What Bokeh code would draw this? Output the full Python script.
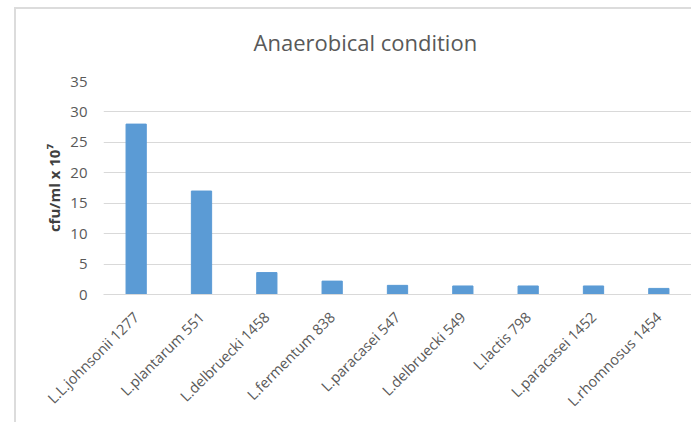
import math
from bokeh.plotting import figure
from bokeh.models import ColumnDataSource, FactorRange, FixedTicker, Title
from bokeh.embed import file_html
from bokeh.resources import INLINE

strains = ["L.L.johnsonii 1277", "L.plantarum 551", "L.delbruecki 1458",
           "L.fermentum 838", "L.paracasei 547", "L.delbruecki 549",
           "L.lactis 798", "L.paracasei 1452", "L.rhomnosus 1454"]
cfu = [28, 17, 3.6, 2.2, 1.5, 1.4, 1.4, 1.4, 1.0]
y_ticks = [0, 5, 10, 15, 20, 25, 30, 35]

FONT = "Open Sans"
GRAY = "#595959"
GRID = "#d9d9d9"

src = ColumnDataSource(dict(strain=strains, cfu=cfu))

p = figure(width=691, height=422, output_backend="svg", toolbar_location=None,
           x_range=FactorRange(*strains, range_padding=0), y_range=(0, 35),
           min_border_left=103, min_border_right=0, min_border_top=79,
           min_border_bottom=128)
p.title = None
t = Title(text="Anaerobical condition", align="left", text_font=FONT,
          text_font_size="22px", text_font_style="normal", text_color=GRAY,
          standoff=49, offset=150)
p.add_layout(t, "above")

# light gray chart-area box edge (left and top), drawn behind a transparent border fill
p.border_fill_alpha = 0
p.styles = {
    "background-image": "linear-gradient(#dcdcdc, #dcdcdc), linear-gradient(#dcdcdc, #dcdcdc)",
    "background-size": "2px 600px, 900px 2px",
    "background-position": "14px 7px, 14px 7px",
    "background-repeat": "no-repeat, no-repeat",
}

p.vbar(x="strain", top="cfu", width=0.31, source=src, color="#5b9bd5")

p.outline_line_color = None
p.background_fill_color = "white"
p.xgrid.grid_line_color = None
p.ygrid.grid_line_color = GRID
p.ygrid.grid_line_width = 1

p.yaxis.ticker = FixedTicker(ticks=y_ticks)
p.yaxis.axis_line_color = None
p.yaxis.major_tick_line_color = None
p.yaxis.minor_tick_line_color = None
p.yaxis.major_label_text_font = FONT
p.yaxis.major_label_text_font_size = "15px"
p.yaxis.major_label_text_color = GRAY
p.yaxis.major_label_standoff = 10
p.yaxis.axis_label = "cfu/ml x 10\u2077"
p.yaxis.axis_label_text_font = FONT
p.yaxis.axis_label_text_font_size = "15px"
p.yaxis.axis_label_text_font_style = "bold"
p.yaxis.axis_label_text_color = "#404040"
p.yaxis.axis_label_standoff = 3

p.xaxis.axis_line_color = GRID
p.xaxis.axis_line_width = 1
p.xaxis.major_tick_line_color = None
p.xaxis.minor_tick_line_color = None
p.xaxis.major_label_orientation = math.pi / 4
p.xaxis.major_label_text_font = FONT
p.xaxis.major_label_text_font_size = "14.5px"
p.xaxis.major_label_text_color = GRAY
p.xaxis.major_label_standoff = 14

open("out.html", "w").write(file_html(p, INLINE))
